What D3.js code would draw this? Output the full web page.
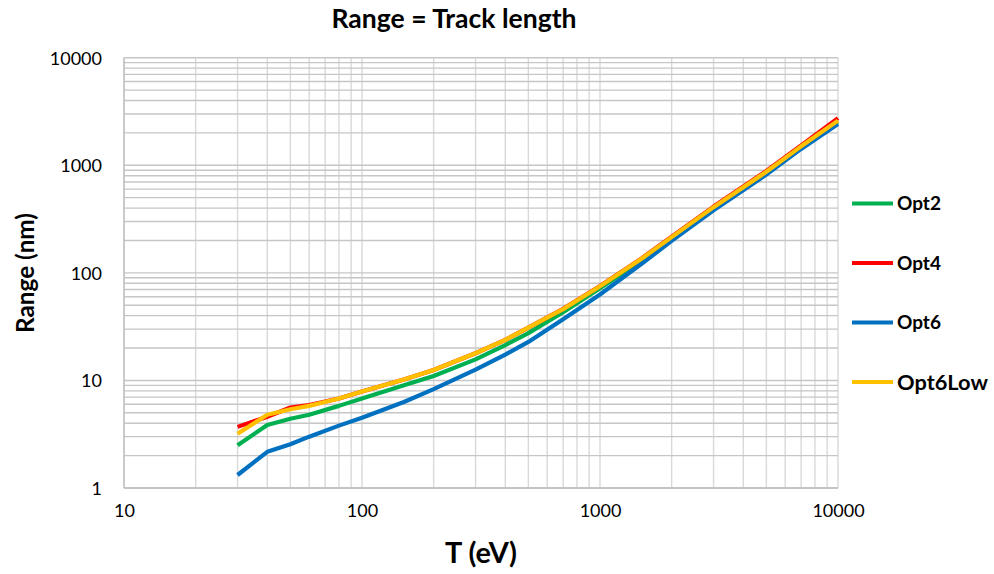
<!DOCTYPE html>
<html>
<head>
<meta charset="utf-8">
<script src="https://cdn.jsdelivr.net/npm/d3@7"></script>
<style>
  html, body { margin: 0; padding: 0; background: #fff; }
  svg { display: block; }
  text { font-family: Lato, "Open Sans", "Liberation Sans", sans-serif; fill: #000; }
</style>
</head>
<body>
<svg id="chart" width="994" height="574"></svg>
<script>
// Kinetic energy T (eV)
const energies = [30, 40, 50, 60, 80, 100, 150, 200, 300, 400, 500, 700, 1000, 1500, 2000, 3000, 5000, 7000, 10000];

// Range (nm) per physics option
const opt2    = [2.5, 3.85, 4.4, 4.8, 5.8, 6.8, 9.0, 11.0, 15.7, 21.3, 27.5, 43, 72, 130, 206, 392, 845, 1460, 2560];
const opt4    = [3.7, 4.6, 5.6, 5.9, 6.8, 7.9, 10.2, 12.5, 17.9, 23.8, 31, 46.3, 75.5, 137, 217, 413, 885, 1530, 2740];
const opt6    = [1.32, 2.17, 2.55, 3.0, 3.8, 4.5, 6.3, 8.3, 12.6, 17.4, 22.8, 37, 63, 122, 198, 382, 820, 1420, 2420];
const opt6Low = [3.2, 4.8, 5.4, 5.8, 6.8, 7.9, 10.2, 12.5, 17.9, 23.8, 31, 46, 75, 136, 215, 408, 870, 1500, 2600];

const seriesNames  = ["Opt2", "Opt4", "Opt6", "Opt6Low"];
const seriesValues = [opt2, opt4, opt6, opt6Low];
const seriesColors = ["#00b050", "#ff0000", "#0070c0", "#ffc000"];

const xTickLabels = ["10", "100", "1000", "10000"];
const yTickLabels = ["1", "10", "100", "1000", "10000"];

const svg = d3.select("#chart");
const plot = { left: 124, right: 838, top: 57.7, bottom: 488 };

const x = d3.scaleLog().domain([10, 10000]).range([plot.left, plot.right]);
const y = d3.scaleLog().domain([1, 10000]).range([plot.bottom, plot.top]);

// all decade + sub-decade positions for the grid
function logGrid(lo, hi) {
  const out = [];
  for (let d = lo; d < hi; d *= 10) for (let k = 1; k < 10; k++) out.push(d * k);
  out.push(hi);
  return out;
}

const grid = svg.append("g");
grid.selectAll("line.v").data(logGrid(10, 10000)).enter().append("line")
  .attr("x1", d => x(d)).attr("x2", d => x(d))
  .attr("y1", plot.top).attr("y2", plot.bottom)
  .attr("stroke", "#d9d9d9").attr("stroke-width", 1.4);
grid.selectAll("line.h").data(logGrid(1, 10000)).enter().append("line")
  .attr("x1", plot.left).attr("x2", plot.right)
  .attr("y1", d => y(d)).attr("y2", d => y(d))
  .attr("stroke", "#c6c6c6").attr("stroke-width", 1.4);

// axis lines
svg.append("line").attr("x1", plot.left).attr("x2", plot.left)
  .attr("y1", plot.top).attr("y2", plot.bottom).attr("stroke", "#bfbfbf").attr("stroke-width", 1.4);
svg.append("line").attr("x1", plot.left).attr("x2", plot.right)
  .attr("y1", plot.bottom).attr("y2", plot.bottom).attr("stroke", "#bfbfbf").attr("stroke-width", 1.4);

// tick labels via d3 axes (no tick marks, no domain)
const xAxis = d3.axisBottom(x).tickValues(xTickLabels.map(Number))
  .tickFormat((d, i) => xTickLabels[i]).tickSize(0).tickPadding(0);
const gx = svg.append("g").attr("transform", `translate(0,${plot.bottom})`).call(xAxis);
gx.select(".domain").remove();
gx.selectAll("text").attr("font-size", 18).attr("y", 29).attr("dy", "0")
  .style("font-family", "Lato, 'Open Sans', sans-serif").attr("fill", "#1a1a1a");

const yAxis = d3.axisLeft(y).tickValues(yTickLabels.map(Number))
  .tickFormat((d, i) => yTickLabels[i]).tickSize(0).tickPadding(0);
const gy = svg.append("g").attr("transform", `translate(${plot.left},0)`).call(yAxis);
gy.select(".domain").remove();
gy.selectAll("text").attr("font-size", 18).attr("x", -22).attr("dy", "0.36em")
  .style("font-family", "Lato, 'Open Sans', sans-serif").attr("fill", "#1a1a1a");

// series lines
const line = d3.line().x(d => x(d[0])).y(d => y(d[1]));
seriesValues.forEach((vals, i) => {
  svg.append("path")
    .datum(energies.map((e, j) => [e, vals[j]]))
    .attr("d", line)
    .attr("fill", "none")
    .attr("stroke", seriesColors[i])
    .attr("stroke-width", 4.2)
    .attr("stroke-linejoin", "round");
});

// fit a text element to a given width by adjusting font size
function fitWidth(sel, width) {
  const w = sel.node().getComputedTextLength();
  const fs = parseFloat(sel.attr("font-size"));
  sel.attr("font-size", fs * width / w);
}

// title
const title = svg.append("text").attr("x", 454).attr("y", 28)
  .attr("text-anchor", "middle").attr("font-weight", "bold").attr("font-size", 20)
  .text("Range = Track length");
fitWidth(title, 245);

// axis titles
const xt = svg.append("text").attr("x", 481).attr("y", 563)
  .attr("text-anchor", "middle").attr("font-weight", "bold").attr("font-size", 20)
  .text("T (eV)");
fitWidth(xt, 72);

const yt = svg.append("text").attr("transform", "translate(34,273) rotate(-90)")
  .attr("text-anchor", "middle").attr("font-weight", "bold").attr("font-size", 20)
  .text("Range (nm)");
fitWidth(yt, 120);

// legend
const legendY = [203.5, 263, 322.5, 382];
seriesNames.forEach((name, i) => {
  svg.append("line").attr("x1", 852).attr("x2", 893)
    .attr("y1", legendY[i]).attr("y2", legendY[i])
    .attr("stroke", seriesColors[i]).attr("stroke-width", 4.2);
  const t = svg.append("text").attr("x", 897).attr("y", legendY[i]).attr("dy", "0.36em")
    .attr("font-weight", "bold").attr("font-size", 19).text(name);
  if (name === "Opt6Low") fitWidth(t, 91);
});
</script>
</body>
</html>
